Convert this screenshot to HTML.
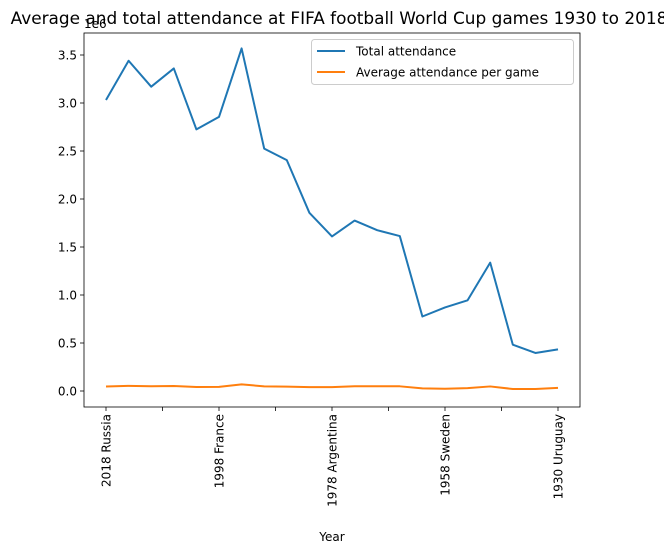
<!DOCTYPE html>
<html><head><meta charset="utf-8"><style>
body{margin:0;background:#fff;}
svg text{font-family:"DejaVu Sans","Liberation Sans",sans-serif;fill:#000;}
</style></head><body>
<svg id="chart" width="664" height="553"></svg>
<script>
const categories=["2018 Russia","2014 Brazil","2010 South Africa","2006 Germany","2002 Korea/Japan","1998 France","1994 USA","1990 Italy","1986 Mexico","1982 Spain","1978 Argentina","1974 Germany","1970 Mexico","1966 England","1962 Chile","1958 Sweden","1954 Switzerland","1950 Brazil","1938 France","1934 Italy","1930 Uruguay"];
const totalAttendance=[3031768,3440000,3170000,3360000,2725000,2855000,3568567,2525000,2405000,1856000,1610000,1775000,1675000,1614000,776000,870000,945000,1337000,483000,396000,434000];
const avgAttendance=[47371,53592,49670,52491,42269,43517,68991,48391,46039,40572,40679,49099,50124,48847,27912,23423,29562,47511,20872,21352,32808];
const yTicks=[0,0.5,1.0,1.5,2.0,2.5,3.0,3.5];
const xTickIdx=[0,2.5,5,7.5,10,12.5,15,17.5,20];
const labeledIdx=[0,5,10,15,20];
const ns="http://www.w3.org/2000/svg";
const svg=document.getElementById('chart');
const L=84,R=580,T=33,B=407;
const x=i=>106+i*(558-106)/(categories.length-1);
const y=v=>391-v/1e6*96;
function mk(tag,attrs,parent){const e=document.createElementNS(ns,tag);for(const k in attrs)e.setAttribute(k,attrs[k]);(parent||svg).appendChild(e);return e;}
const title=mk('text',{x:339,y:24,'font-size':16.9,'text-anchor':'middle'});title.textContent="Average and total attendance at FIFA football World Cup games 1930 to 2018";


const off=mk('text',{x:84,y:28,'font-size':12});off.textContent="1e6";


yTicks.forEach(v=>{
  mk('line',{x1:L-4,x2:L,y1:y(v*1e6),y2:y(v*1e6),stroke:'#000','stroke-width':0.8});
  const t=mk('text',{x:L-7,y:y(v*1e6)+4.5,'font-size':12,'text-anchor':'end'});t.textContent=v.toFixed(1);
  
  
});
xTickIdx.forEach(i=>{mk('line',{x1:x(i),x2:x(i),y1:B,y2:B+4,stroke:'#000','stroke-width':0.8});});
labeledIdx.forEach(i=>{
  const t=mk('text',{x:0,y:0,'font-size':12,'text-anchor':'end',transform:`translate(${x(i)+4.5},${B+7}) rotate(-90)`});t.textContent=categories[i];
  
  
});
const xl=mk('text',{x:332,y:541,'font-size':12,'text-anchor':'middle'});xl.textContent="Year";


function line(vals,color,name){
  const p=mk('polyline',{points:vals.map((v,i)=>x(i)+','+y(v)).join(' '),fill:'none',stroke:color,'stroke-width':2,'stroke-linejoin':'round'});
  
  
}
line(totalAttendance,'#1f77b4','total-attendance-line');
line(avgAttendance,'#ff7f0e','average-attendance-line');
const fr=mk('rect',{x:L,y:T,width:R-L,height:B-T,fill:'none',stroke:'#000','stroke-width':0.8});


const lg=mk('g',{});


mk('rect',{x:311.5,y:39.5,width:262,height:45,rx:3,fill:'#fff',stroke:'#ccc'},lg);
[['Total attendance','#1f77b4'],['Average attendance per game','#ff7f0e']].forEach((d,k)=>{
  const yy=51+k*21;
  mk('line',{x1:317,x2:345,y1:yy,y2:yy,stroke:d[1],'stroke-width':2},lg);
  const t=mk('text',{x:356,y:yy+4.5,'font-size':12},lg);t.textContent=d[0];
  
  
});
</script>
</body></html>
